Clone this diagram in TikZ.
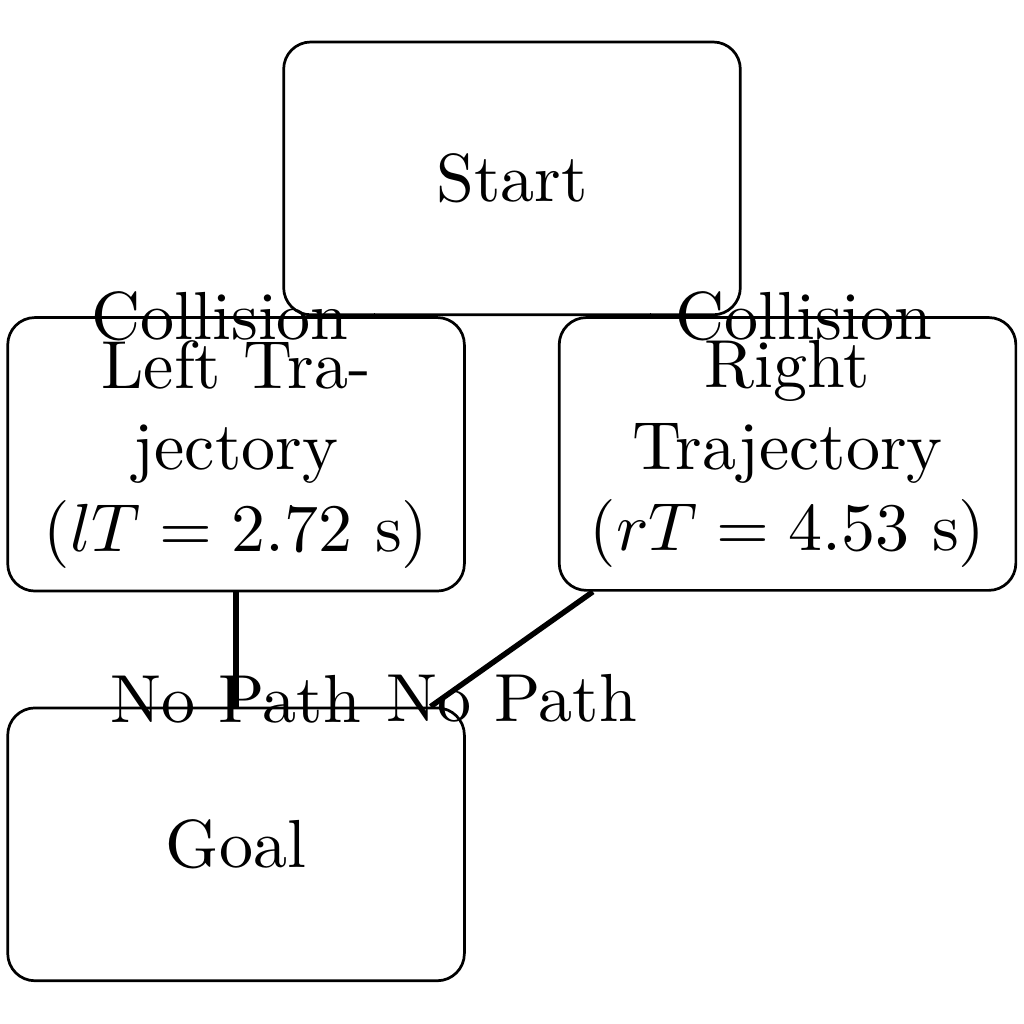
\documentclass[tikz,border=0pt]{standalone}
\usepackage{amsmath}
\usepackage{tikz}
\usetikzlibrary{positioning}

\begin{document}
\begin{tikzpicture}[
    state/.style={rectangle, draw, rounded corners, minimum width=2.36cm, minimum height=1.41cm, align=center},
    link/.style={thick},
]
\useasboundingbox (-2.646,0.922) rectangle (2.646,-4.370);

\node[state] (start) at (0,0) {Start};
\node[state, below=0pt of start, xshift=-1.426cm] (left) {Left Tra-\\jectory\\($lT = 2.72$ s)};
\node[state, below=0pt of start, xshift=1.424cm] (right) {Right\\Trajectory\\($rT = 4.53$ s)};
\node[state, below=0.59cm of left] (goal) {Goal};

\draw[link] (start) -- (left) node[midway, left] {Collision};
\draw[link] (start) -- (right) node[midway, right] {Collision};
\draw[link] (left) -- (goal) node[midway, below] {No Path};
\draw[link] (right) -- (goal) node[midway, below] {No Path};

\end{tikzpicture}
\end{document}
